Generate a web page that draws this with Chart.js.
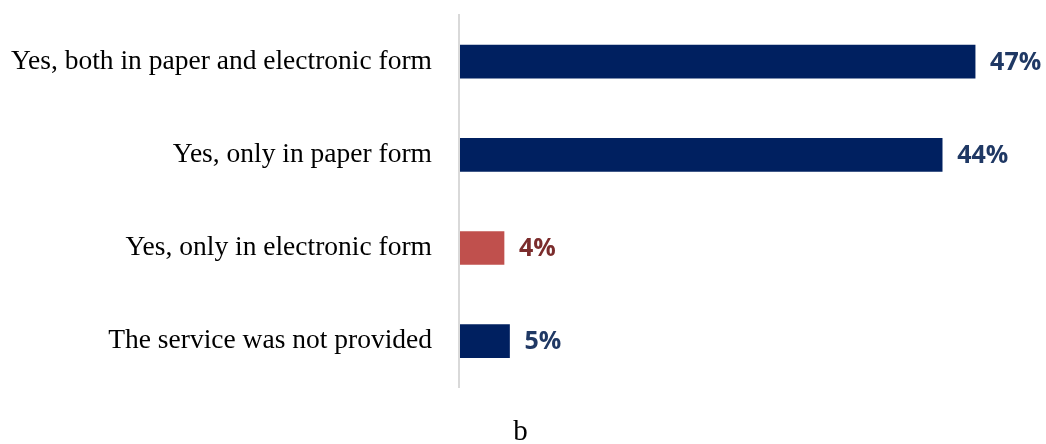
<!DOCTYPE html>
<html>
<head>
<meta charset="utf-8">
<script src="https://cdn.jsdelivr.net/npm/chart.js@4/dist/chart.umd.min.js"></script>
<style>
  html, body { margin: 0; padding: 0; background: #fff; }
  #wrap { width: 1046px; height: 444px; }
</style>
</head>
<body>
<div id="wrap"><canvas id="chart"></canvas></div>
<script>
const categories = [
    'Yes, both in paper and electronic form',
    'Yes, only in paper form',
    'Yes, only in electronic form',
    'The service was not provided'
];
const shares = [47, 44, 4.1, 4.6];
const valueLabels = ['47%', '44%', '4%', '5%'];
const barColors = ['#002060', '#002060', '#C0504D', '#002060'];
const labelColors = ['#1f3864', '#1f3864', '#7b2c2c', '#1f3864'];

const valueLabelPlugin = {
    id: 'valueLabels',
    afterDatasetsDraw(chart) {
        const ctx = chart.ctx;
        const meta = chart.getDatasetMeta(0);
        ctx.save();
        ctx.font = 'bold 25px "Open Sans"';
        ctx.textAlign = 'left';
        ctx.textBaseline = 'middle';
        meta.data.forEach((bar, i) => {
            ctx.fillStyle = labelColors[i];
            ctx.fillText(valueLabels[i], bar.x + 15, bar.y + 1);
        });
        ctx.restore();
    }
};

const ctx = document.getElementById('chart').getContext('2d');
const myChart = new Chart(ctx, {
    type: 'bar',
    data: {
        labels: categories,
        datasets: [{
            data: shares,
            backgroundColor: barColors,
            borderWidth: 0,
            barThickness: 33,
        }],
    },
    options: {
        indexAxis: 'y',
        responsive: true,
        maintainAspectRatio: false,
        animation: false,
        layout: {
            padding: { top: 15, right: 5, left: 0, bottom: 0 },
        },
        plugins: {
            legend: { display: false },
            tooltip: { enabled: false },
            title: {
                display: true,
                text: 'b',
                position: 'bottom',
                color: '#000',
                font: { family: '"Liberation Serif"', size: 29, weight: 'normal', lineHeight: 0.8 },
                padding: { top: 33, bottom: 0 },
            },
        },
        scales: {
            x: {
                display: false,
                min: 0,
                max: 53,
            },
            y: {
                afterFit: (scale) => {
                    scale.width = 459;
                    scale.paddingTop = 0;
                    scale.paddingBottom = 0;
                },
                grid: { display: false, drawTicks: false },
                border: { display: true, color: '#d9d9d9', width: 2, z: 1 },
                ticks: {
                    padding: 27,
                    color: '#000',
                    font: { family: '"Liberation Serif"', size: 27.5 },
                },
            },
        },
    },
    plugins: [valueLabelPlugin],
});
</script>
</body>
</html>
